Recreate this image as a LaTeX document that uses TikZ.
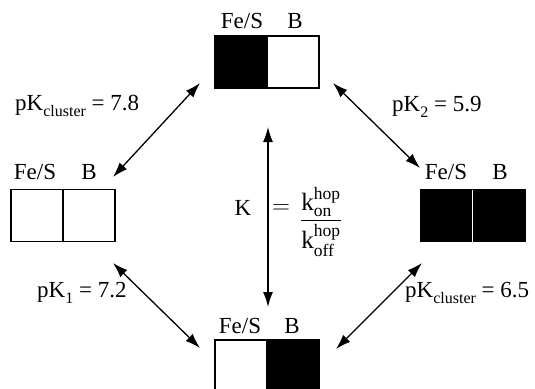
\documentclass[tikz,border=0pt]{standalone}
\usepackage{fontspec}
\setmainfont{Liberation Serif}
\usepackage{amsmath}
\usetikzlibrary{arrows.meta}
\newcommand\mysub[1]{\raisebox{-0.28em}{\fontsize{16}{16}\selectfont #1}}
\begin{document}
\begin{tikzpicture}[x=1pt,y=-1pt,
  half/.style={draw,line width=1.6pt,minimum width=52pt,minimum height=52pt,inner sep=0pt,outer sep=0pt},
  lab/.style={font=\fontsize{23}{27}\selectfont,inner sep=0pt},
  dbl/.style={line width=1.3pt,{Latex[length=15pt,width=10pt]}-{Latex[length=15pt,width=10pt]}}]
\useasboundingbox (0,0) rectangle (535,388);
% top box
\node[half,fill=black] (tA) at (241,62) {};
\node[half] (tB) at (293,62) {};
\node[lab,anchor=base] (tAl) at (242,28) {Fe/S};
\node[lab,anchor=base] (tBl) at (295,28) {B};
% left box
\node[half] (lA) at (37,215.5) {};
\node[half] (lB) at (89,215.5) {};
\node[lab,anchor=base] (lAl) at (35,179) {Fe/S};
\node[lab,anchor=base] (lBl) at (89,179) {B};
% right box
\node[half,fill=black] (rA) at (446.5,215.5) {};
\node[half,fill=black] (rB) at (499.5,215.5) {};
\draw[white,line width=0.8pt] (rA.north east) -- (rA.south east);
\node[lab,anchor=base] (rAl) at (446,179) {Fe/S};
\node[lab,anchor=base] (rBl) at (500,179) {B};
% bottom box
\node[half] (bA) at (241,366) {};
\node[half,fill=black] (bB) at (293,366) {};
\node[lab,anchor=base] (bAl) at (240,333) {Fe/S};
\node[lab,anchor=base] (bBl) at (292,333) {B};
% arrow end points
\coordinate (ul1) at (113,177); \coordinate (ul2) at (200,83);
\coordinate (ur1) at (333,83); \coordinate (ur2) at (420,168);
\coordinate (ll1) at (113,263); \coordinate (ll2) at (200,348);
\coordinate (lr1) at (422,263); \coordinate (lr2) at (336,349);
\coordinate (v1) at (268,127); \coordinate (v2) at (268,307);
\draw[dbl] (ul1) -- (ul2);
\draw[dbl] (ur1) -- (ur2);
\draw[dbl] (ll1) -- (ll2);
\draw[dbl] (lr1) -- (lr2);
\draw[dbl] (v1) -- (v2);
% labels
\node[lab,anchor=base west] (pk1) at (15,110) {pK\mysub{cluster} = 7.8};
\node[lab,anchor=base west] (pk2) at (392,111) {pK\mysub{2} = 5.9};
\node[lab,anchor=base west] (pk3) at (37,297) {pK\mysub{1} = 7.2};
\node[lab,anchor=base west] (pk4) at (405,297) {pK\mysub{cluster} = 6.5};
\node[lab] (K) at (243,208) {K};
\node[lab] (eq) at (281,209) {$=$};
\node[lab,font=\fontsize{25}{29}\selectfont,anchor=base] (fr) at (321,227) {$\dfrac{\text{k}^{\text{hop}}_{\text{on}}}{\text{k}^{\text{hop}}_{\text{off}}}$};
\end{tikzpicture}
\end{document}
